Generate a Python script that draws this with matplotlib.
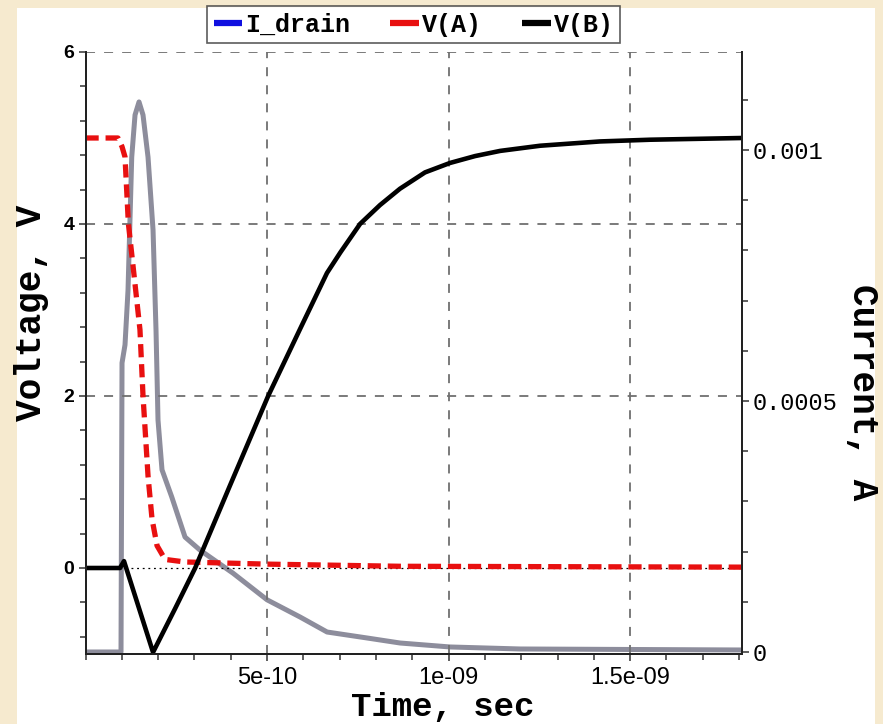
import matplotlib
matplotlib.use("Agg")
import matplotlib.pyplot as plt
from matplotlib.patches import Rectangle
from matplotlib.lines import Line2D
from matplotlib.ticker import FixedLocator, MultipleLocator

# ---- data ----
t_vb = [0, 0.95e-10, 1.06e-10, 1.86e-10, 2.47e-10, 3.02e-10, 3.98e-10, 5.03e-10,
        5.91e-10, 6.65e-10, 7.02e-10, 7.56e-10, 8.11e-10, 8.66e-10, 9.35e-10,
        1.004e-9, 1.073e-9, 1.142e-9, 1.252e-9, 1.417e-9, 1.555e-9, 1.808e-9]
v_b = [0, 0, 0.08, -0.98, -0.47, 0.0, 0.96, 2.0, 2.78, 3.43, 3.67, 4.0, 4.22,
       4.41, 4.6, 4.71, 4.79, 4.85, 4.91, 4.96, 4.98, 5.0]

t_va = [0, 0.895e-10, 1.005e-10, 1.088e-10, 1.18e-10, 1.364e-10, 1.5e-10,
        1.584e-10, 1.722e-10, 1.832e-10, 1.97e-10, 2.19e-10, 2.74e-10, 5.0e-10,
        8.66e-10, 1.808e-9]
v_a = [5.0, 5.0, 4.9, 4.78, 4.01, 3.3, 2.77, 2.0, 1.07, 0.57, 0.26, 0.10, 0.07,
       0.045, 0.02, 0.01]

t_id = [0, 0.978e-10, 1.006e-10, 1.088e-10, 1.171e-10, 1.273e-10, 1.364e-10,
        1.474e-10, 1.584e-10, 1.722e-10, 1.860e-10, 1.942e-10, 1.997e-10,
        2.107e-10, 2.375e-10, 2.741e-10, 3.154e-10, 4.063e-10, 5.0e-10,
        5.909e-10, 6.653e-10, 7.755e-10, 8.664e-10, 1.0041e-9, 1.197e-9, 1.808e-9]
i_d = [0, 0, 5.76e-4, 6.12e-4, 7.21e-4, 9.86e-4, 1.070e-3, 1.096e-3, 1.070e-3,
       9.86e-4, 8.41e-4, 6.41e-4, 4.62e-4, 3.63e-4, 3.09e-4, 2.29e-4, 2.03e-4,
       1.57e-4, 1.04e-4, 6.97e-5, 3.98e-5, 2.79e-5, 1.79e-5, 1.0e-5, 6e-6, 4e-6]

x_ticks = [5e-10, 1e-9, 1.5e-9]
x_ticklabels = ["5e-10", "1e-09", "1.5e-09"]
y_ticks = [0, 2, 4, 6]
y_ticklabels = ["0", "2", "4", "6"]
y2_ticks = [0, 0.0005, 0.001]
y2_ticklabels = ["0", "0.0005", "0.001"]
legend_labels = ["I_drain", "V(A)", "V(B)"]
legend_colors = ["#1010E0", "#E81010", "black"]

# ---- figure ----
W, H = 883, 724
fig = plt.figure(figsize=(W / 100, H / 100), dpi=100, facecolor="#F6EACF")
fig.patches.append(Rectangle((17 / W, 0), 858 / W, 716 / H, transform=fig.transFigure,
                             facecolor="white", edgecolor="none", zorder=-10))

L, R, T, B = 85.5, 742, 52, 654
ax = fig.add_axes([L / W, 1 - B / H, (R - L) / W, (B - T) / H])
ax2 = ax.twinx()
ax.set_zorder(ax2.get_zorder() + 1)
ax.patch.set_visible(False)

gray = "#8D8D9C"
ax2.plot(t_id, i_d, color=gray, lw=3.6, solid_joinstyle="round")
ax.plot(t_va, v_a, color="#E81010", lw=3.8, ls=(0, (2.5, 1.3)))
ax.plot(t_vb, v_b, color="black", lw=3.3, solid_joinstyle="round")
ax.axhline(0, color="black", lw=0.9, ls=(0, (1.5, 3)), zorder=0.5)

ax.set_xlim(0, 1.808e-9)
ax.set_ylim(-1, 6)
ax2.set_ylim(-0.000004, 0.0011955)

ax.xaxis.set_major_locator(FixedLocator(x_ticks))
ax.set_xticklabels(x_ticklabels)
ax.xaxis.set_minor_locator(MultipleLocator(1e-10))
ax.yaxis.set_major_locator(FixedLocator(y_ticks))
ax.set_yticklabels(y_ticklabels)
ax.yaxis.set_minor_locator(MultipleLocator(0.4))
ax2.yaxis.set_major_locator(FixedLocator(y2_ticks))
ax2.set_yticklabels(y2_ticklabels)
ax2.yaxis.set_minor_locator(MultipleLocator(0.0001))

ax.grid(True, which="major", color="#707070", lw=1.3, ls=(0, (5, 5)))
for gl, v in zip(ax.get_ygridlines(), y_ticks):
    if v == 0:
        gl.set_visible(False)

for a in (ax, ax2):
    a.spines["top"].set_visible(False)
    for s in ("left", "right", "bottom"):
        a.spines[s].set_linewidth(1.4)
        a.spines[s].set_color("#222222")
for a in (ax, ax2):
    a.tick_params(which="both", direction="out", color="#333333", width=1.1)
    a.tick_params(which="major", length=5)
    a.tick_params(which="minor", length=4.5)

for lab in ax.get_yticklabels():
    lab.set_fontfamily("Liberation Sans")
    lab.set_fontweight("bold")
    lab.set_fontsize(14)
for lab in ax.get_xticklabels():
    lab.set_fontfamily("Liberation Sans")
    lab.set_fontsize(17)
for lab in ax2.get_yticklabels():
    lab.set_fontfamily("Liberation Mono")
    lab.set_fontsize(17)
ax.tick_params(axis="y", pad=3)
ax.tick_params(axis="x", pad=4)
ax2.tick_params(axis="y", pad=3)

lab_font = dict(family="Liberation Mono", weight="bold")
fig.text(32 / W, 1 - 313 / H, "Voltage, V", rotation=90, ha="center", va="center",
         fontsize=26, **lab_font)
fig.text(443 / W, 1 - 708 / H, "Time, sec", ha="center", va="center",
         fontsize=24.5, **lab_font)
fig.text(862 / W, 1 - 392 / H, "Current, A", rotation=270, ha="center", va="center",
         fontsize=26, **lab_font)

handles = [Line2D([], [], color=c, lw=4.5, solid_capstyle="butt") for c in legend_colors]
leg = ax.legend(handles, legend_labels, loc="lower center", bbox_to_anchor=(0.5, 1.015),
                borderaxespad=0, ncol=3, frameon=True, fancybox=False, handlelength=1.15,
                handletextpad=0.12, columnspacing=1.6, borderpad=0.25,
                prop=dict(family="Liberation Mono", weight="bold", size=18))
leg.get_frame().set_edgecolor("#333333")
leg.get_frame().set_linewidth(1.2)

fig.savefig("out.png", dpi=100, facecolor=fig.get_facecolor())
